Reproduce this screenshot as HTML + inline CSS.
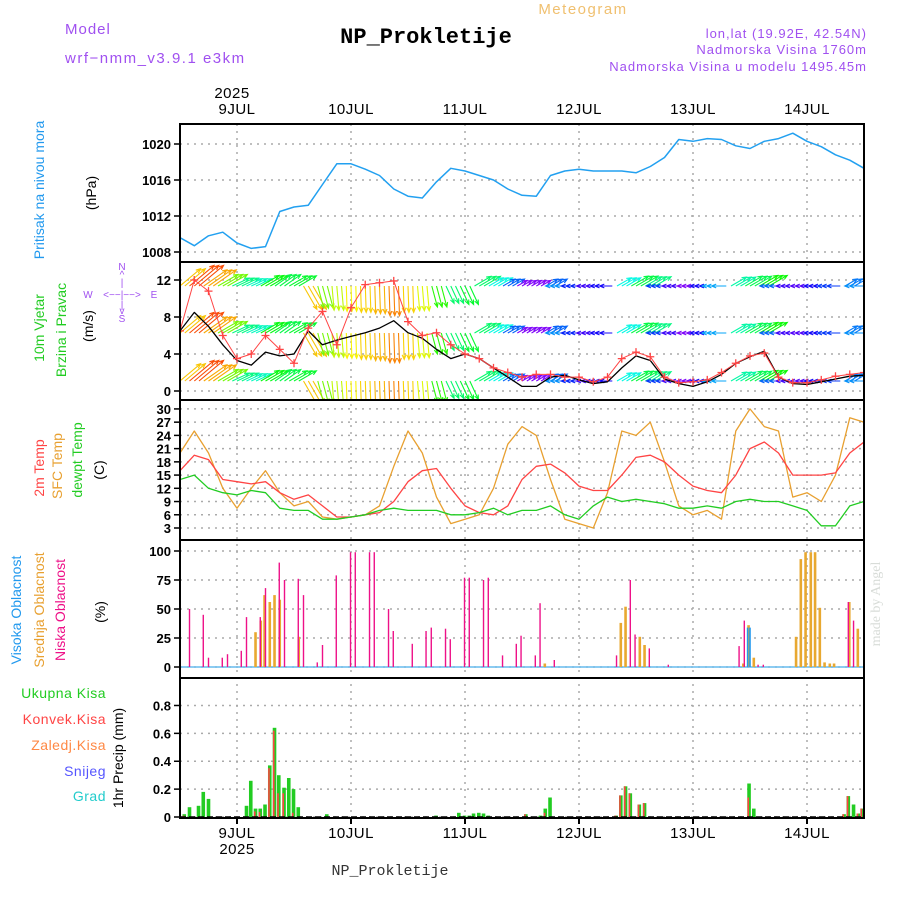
<!DOCTYPE html>
<html><head><meta charset="utf-8">
<style>
html,body{margin:0;padding:0;background:#fff;}
svg{display:block;font-family:"Liberation Sans",sans-serif;}
.tk{font-size:13px;font-weight:bold;fill:#000;}
.day{font-size:15px;fill:#000;letter-spacing:0.5px;}
</style></head>
<body>
<svg id="chart" width="900" height="900" viewBox="0 0 900 900">
<rect x="0" y="0" width="900" height="900" fill="#fff"/>
<text x="65" y="34" font-size="15" fill="#a050f0" letter-spacing="1">Model</text>
<text x="65" y="63" font-size="15" fill="#a050f0" letter-spacing="1.5">wrf−nmm_v3.9.1 e3km</text>
<text x="426" y="43" font-size="22" font-weight="bold" text-anchor="middle" font-family="Liberation Mono, monospace" fill="#000">NP_Prokletije</text>
<text x="583" y="14" font-size="15" text-anchor="middle" fill="#f0c070" letter-spacing="1.5">Meteogram</text>
<text x="867" y="38" font-size="13" text-anchor="end" fill="#a050f0" letter-spacing="1">lon,lat (19.92E, 42.54N)</text>
<text x="867" y="54" font-size="13" text-anchor="end" fill="#a050f0" letter-spacing="1">Nadmorska Visina 1760m</text>
<text x="867" y="71" font-size="13" text-anchor="end" fill="#a050f0" letter-spacing="1">Nadmorska Visina u modelu 1495.45m</text>
<text x="232" y="98" class="day" text-anchor="middle">2025</text>
<text x="876" y="600" font-size="14" fill="#d8dcd8" font-family="Liberation Serif, serif" transform="rotate(-90 880 600)" text-anchor="middle">made by Angel</text>
<text x="390" y="875" font-size="15" font-family="Liberation Mono, monospace" text-anchor="middle" fill="#333">NP_Prokletije</text>

<!-- left labels -->
<text transform="translate(44,190) rotate(-90)" font-size="14" fill="#2299ee" text-anchor="middle">Pritisak na nivou mora</text>
<text transform="translate(96,193) rotate(-90)" font-size="14" fill="#000" text-anchor="middle">(hPa)</text>
<text transform="translate(44,328) rotate(-90)" font-size="14" fill="#22cc22" text-anchor="middle">10m Vjetar</text>
<text transform="translate(66,330) rotate(-90)" font-size="14" fill="#22cc22" text-anchor="middle">Brzina i Pravac</text>
<text transform="translate(93,326) rotate(-90)" font-size="14" fill="#000" text-anchor="middle">(m/s)</text>
<g fill="#a050f0" font-size="10" text-anchor="middle">
<text x="122" y="270">N</text><text x="122" y="278">^</text><text x="122" y="286">|</text>
<text x="88" y="298">W</text><text x="122" y="298">&lt;−−|−−&gt;</text><text x="154" y="298">E</text>
<text x="122" y="308">|</text><text x="122" y="314">v</text><text x="122" y="322">S</text>
</g>
<text transform="translate(44,468) rotate(-90)" font-size="14" fill="#ff4444" text-anchor="middle">2m Temp</text>
<text transform="translate(62,466) rotate(-90)" font-size="14" fill="#e8a030" text-anchor="middle">SFC Temp</text>
<text transform="translate(82,460) rotate(-90)" font-size="14" fill="#22cc22" text-anchor="middle">dewpt Temp</text>
<text transform="translate(104,470) rotate(-90)" font-size="14" fill="#000" text-anchor="middle">(C)</text>
<text transform="translate(21,610) rotate(-90)" font-size="14" fill="#2299ee" text-anchor="middle">Visoka Oblacnost</text>
<text transform="translate(44,610) rotate(-90)" font-size="14" fill="#e8a030" text-anchor="middle">Srednja Oblacnost</text>
<text transform="translate(65,610) rotate(-90)" font-size="14" fill="#ee1188" text-anchor="middle">Niska Oblacnost</text>
<text transform="translate(105,612) rotate(-90)" font-size="14" fill="#000" text-anchor="middle">(%)</text>
<g font-size="14" text-anchor="end" letter-spacing="0.5">
<text x="106" y="698" fill="#22cc22">Ukupna  Kisa</text>
<text x="106" y="724" fill="#ff4444">Konvek.Kisa</text>
<text x="106" y="750" fill="#ff8844">Zaledj.Kisa</text>
<text x="106" y="776" fill="#5555ff">Snijeg</text>
<text x="106" y="801" fill="#22cccc">Grad</text>
</g>
<text transform="translate(123,758) rotate(-90)" font-size="14" fill="#000" text-anchor="middle">1hr Precip (mm)</text>

<g id="grid"></g>
<g id="marks"></g>
<g id="frames"></g>
</svg>
<script>
// ---- data (3-hourly from 8JUL 12Z) ----
const dayLabels = ["9JUL","10JUL","11JUL","12JUL","13JUL","14JUL"];
const pressure = [1009.6,1008.7,1009.8,1010.2,1009.0,1008.4,1008.6,1012.5,1013.0,1013.2,1015.5,1017.8,1017.8,1017.2,1016.5,1015.0,1014.2,1014.0,1015.8,1017.3,1017.0,1016.5,1016.0,1015.0,1014.3,1014.2,1016.5,1017.0,1017.2,1017.0,1017.0,1017.0,1016.8,1017.5,1018.5,1020.5,1020.3,1020.6,1020.5,1019.8,1019.5,1020.3,1020.6,1021.2,1020.3,1019.7,1018.8,1018.2,1017.3];
const windSpeed = [6.5,8.5,7,5,3.3,2.8,4.2,3.8,4,6.5,5,5.5,5.9,6.3,6.8,7.6,6.3,5.7,4.5,3.5,4,3.5,2.5,1.5,0.5,0.5,1.5,1.7,1.2,0.8,1.0,2.5,3.8,3.3,1.3,0.8,0.5,1.0,1.8,3.0,3.7,4.3,1.5,0.8,0.7,1.0,1.3,1.6,1.7];
const windGust = [6.5,12,10.8,6,3.5,4,6,4.5,3,6.8,8.6,5,9,11.5,11.7,11.9,7.5,6,6.3,5,4,3.5,2.5,2,1.5,1.8,1.8,1.5,1.5,1,1.5,3.5,4.2,3.7,1.5,0.9,1,1.2,2,3,3.8,4.1,1.5,0.9,0.9,1.2,1.6,1.8,2];
const windDir = [50,50,55,60,65,65,60,55,60,150,165,175,178,178,178,178,178,175,165,155,155,60,60,60,60,60,60,270,270,270,270,60,60,60,270,270,270,270,270,60,60,60,270,270,270,270,270,60,270];
const temp2m = [16,19.5,18.5,14,13.5,13,13.5,11,9.5,10.5,8,5.5,5.5,6,6.5,9,13.5,16,16.5,12,8,6.5,6,8,14,17,17.5,15.5,12.5,11.5,11.5,15,19,19.5,18,15,12.5,11.5,11,15,21,22.5,20,15,15,15,15.5,20,22.5];
const tempSfc = [20,25,20,12,7.5,12,16,11,8,9,5.5,5,5.5,6,8,17,25,20,10,4,5,6,12,22,26,24,14,5,4,3,11,25,24,27,18,8,6,7,5,25,30,26,25,10,11,9,15,28,27];
const dewpt = [14,15,12,11,10.5,11.5,11,7.5,7,7,5,5,5.5,6,7,7.5,7,7,7,6,6,6.5,7.5,6,7,7,8,6,5,8,10,9,9.5,9,8.5,7.5,7.5,8,7.5,9,9.5,9,9,8,7,3.5,3.5,8,9];
// clouds (hour from start, percent)
const lowHours = [2.0,4.9,6.0,8.9,10.0,12.9,14.0,16.9,18.0,20.9,22.0,24.9,26.0,28.9,30.0,32.9,35.9,36.9,39.9,40.9,43.9,44.9,48.9,51.8,52.9,55.9,56.9,59.9,60.9,63.9,64.9,67.9,70.8,71.8,74.8,75.8,78.8,91.9,94.8,95.8,98.8,102.8,117.7,118.8,121.7,122.8,140.7,141.8];
const lowVals = [50,45,8,8,11,14,43,43,68,90,75,76,62,4,19,79,99,99,99,99,50,31,20,31,34,33,24,77,77,75,77,10,20,27,10,55,6,10,75,28,16,2,18,40,2,2,56,40];
const midHours = [15.9,17.0,17.8,18.9,19.9,21.0,25.0,76.8,92.8,93.8,96.8,97.8,118.6,119.7,120.8,129.7,130.7,131.7,132.8,133.7,134.7,135.7,136.8,137.7,140.9,142.7];
const midVals = [30,40,62,56,62,58,26,3,38,52,26,19,3,36,8,26,93,99,99,99,51,4,3,3,56,33];
const highHours = [119.5,120.0];
const highVals = [34,34];
// precip (hour, mm)
const precipHours = [0.9,2.0,3.9,4.9,6.0,14.0,14.9,15.9,16.9,17.9,18.9,19.9,20.8,21.9,22.9,23.9,24.9,30.9,53.9,58.7,59.9,60.9,61.8,62.9,63.9,64.9,72.8,75.9,76.9,77.9,91.8,92.8,93.8,94.8,96.7,97.8,119.8,120.8,139.8,140.7,141.8,142.8,143.6];
const precipTotal = [0.02,0.07,0.08,0.18,0.13,0.08,0.26,0.06,0.06,0.09,0.37,0.64,0.30,0.21,0.28,0.20,0.07,0.02,0.01,0.03,0.01,0.01,0.025,0.03,0.025,0.01,0.02,0.01,0.06,0.14,0.01,0.155,0.22,0.17,0.09,0.1,0.24,0.06,0.02,0.15,0.09,0.025,0.06];
const precipConv = [0.01,0,0,0,0,0,0,0.04,0.035,0,0.35,0.62,0.17,0.17,0,0.03,0,0,0,0,0,0,0,0,0,0,0.02,0,0.03,0,0.01,0.155,0.22,0.17,0.09,0.1,0.14,0,0.02,0.15,0,0.025,0.06];
const pTicks = [1008,1012,1016,1020];
const wTicks = [0,4,8,12];
const tTicks = [3,6,9,12,15,18,21,24,27,30];
const cTicks = [0,25,50,75,100];
const rTicks = [0,0.2,0.4,0.6,0.8];

// ---- axes ----
const X0=180, X1=864;
const xH = h => X0 + h*4.75;
const xI = i => xH(i*3);
const yP = v => 252 - (v-1008)*9;
const yW = v => 391 - v*9.25;
const yT = v => 528 - (v-3)*4.41;
const yC = v => 667 - v*1.16;
const yR = v => 817 - v*139.4;
const panels = [[124,262],[262,400],[400,540],[540,678],[678,818]];

const NS="http://www.w3.org/2000/svg";
function mk(tag, attrs, parent){const e=document.createElementNS(NS,tag);for(const k in attrs)e.setAttribute(k,attrs[k]);parent.appendChild(e);return e;}
const grid=document.getElementById('grid'), marks=document.getElementById('marks'), frames=document.getElementById('frames');

// clip paths
const defs=mk('defs',{},document.getElementById('chart'));
panels.forEach((p,k)=>{const c=mk('clipPath',{id:'clip'+k},defs);mk('rect',{x:X0,y:p[0],width:X1-X0,height:p[1]-p[0]},c);});

// vertical day grid & labels
dayLabels.forEach((d,k)=>{
  const x = xH(12+24*k);
  const gl=mk('line',{x1:x,y1:124,x2:x,y2:818,stroke:'#aaa','stroke-width':1.5,'stroke-dasharray':'2,5'},grid);
  
  
  const t=mk('text',{x:x,y:114,'text-anchor':'middle',class:'day'},grid); t.textContent=d;
  
  
  const b=mk('text',{x:x,y:838,'text-anchor':'middle',class:'day'},grid); b.textContent=d;
  
  
  mk('line',{x1:x,y1:818,x2:x,y2:824,stroke:'#000','stroke-width':2},grid);
});
const yr=mk('text',{x:xH(12),y:854,'text-anchor':'middle',class:'day'},grid); yr.textContent='2025';



function hticks(ticks, yf, fmt, name){
  ticks.forEach(v=>{
    const y=yf(v);
    const l=mk('line',{x1:X0,y1:y,x2:X1,y2:y,stroke:'#aaa','stroke-width':1.5,'stroke-dasharray':'2,5'},grid);
    
    
    mk('line',{x1:X0-6,y1:y,x2:X0,y2:y,stroke:'#000','stroke-width':1.5},grid);
    const t=mk('text',{x:X0-9,y:y+5,'text-anchor':'end',class:'tk'},grid); t.textContent=fmt(v);
    
    
  });
}
hticks(pTicks,yP,v=>String(v),'pressure');
hticks(wTicks,yW,v=>String(v),'wind');
hticks(tTicks,yT,v=>String(v),'temp');
hticks(cTicks,yC,v=>String(v),'cloud');
hticks(rTicks,yR,v=>v===0?'0':v.toFixed(1),'precip');

function line(arr, xf, yf, color, w, clip, name){
  const d=arr.map((v,i)=>(i?'L':'M')+xf(i).toFixed(1)+','+yf(v).toFixed(1)).join(' ');
  const p=mk('path',{d:d,fill:'none',stroke:color,'stroke-width':w,'clip-path':'url(#clip'+clip+')','stroke-linejoin':'round'},marks);
  
  
  return p;
}
// pressure
line(pressure,xI,yP,'#22a0f0',1.5,0,'pressure-line');

// wind arrows
function hueFor(s){
  const sp=[0.5,2,4,6,8,11], hu=[270,190,130,55,25,-20];
  if(s<=sp[0]) return hu[0];
  for(let k=1;k<sp.length;k++){ if(s<=sp[k]) return hu[k-1]+(hu[k]-hu[k-1])*(s-sp[k-1])/(sp[k]-sp[k-1]); }
  return hu[hu.length-1];
}
const rows=[286,333,381];
const wg=mk('g',{'clip-path':'url(#clip1)'},marks);


for(let h=0; h<=144; h++){
  const i=Math.min(48,Math.round(h/3));
  const s=windSpeed[i], a=windDir[i]*Math.PI/180;
  const L=10+s*2.6;
  const col='hsl('+((hueFor(s)+360)%360)+',95%,50%)';
  rows.forEach(y0=>{
    const x0=xH(h), x1=x0+Math.sin(a)*L, y1=y0-Math.cos(a)*L;
    const ar=mk('path',{d:`M${x0.toFixed(1)},${y0} L${x1.toFixed(1)},${y1.toFixed(1)} M${(x1-Math.sin(a-0.4)*5).toFixed(1)},${(y1+Math.cos(a-0.4)*5).toFixed(1)} L${x1.toFixed(1)},${y1.toFixed(1)} L${(x1-Math.sin(a+0.4)*5).toFixed(1)},${(y1+Math.cos(a+0.4)*5).toFixed(1)}`,stroke:col,'stroke-width':1.1,fill:'none'},wg);
    
    
  });
}
line(windSpeed,xI,yW,'#000',1.3,1,'wind-speed-line');
line(windGust,xI,yW,'#ff4444',1,1,'wind-gust-line');
windGust.forEach((v,i)=>{
  const x=xI(i), y=yW(v);
  const m=mk('path',{d:`M${x-4},${y} L${x+4},${y} M${x},${y-4} L${x},${y+4}`,stroke:'#ff4444','stroke-width':1.3,'clip-path':'url(#clip1)'},marks);
  
  
});

// temperatures
line(tempSfc,xI,yT,'#e8a030',1.3,2,'sfc-temp-line');
line(temp2m,xI,yT,'#ff4444',1.3,2,'temp-2m-line');
line(dewpt,xI,yT,'#22cc22',1.3,2,'dewpoint-line');

// clouds
const bl=mk('line',{x1:X0,y1:yC(0),x2:X1,y2:yC(0),stroke:'#66bbee','stroke-width':1.5},marks);


function bars(hours, vals, yf, color, w, off, clip, name){
  hours.forEach((h,k)=>{
    const x=xH(h)+off, y=yf(vals[k]), y0=yf(0);
    const r=mk('rect',{x:(x-w/2).toFixed(2),y:y.toFixed(1),width:w,height:Math.max(0,y0-y).toFixed(1),fill:color,'clip-path':'url(#clip'+clip+')'},marks);
    
    
  });
}
bars(midHours,midVals,yC,'#e8a830',2.6,0,3,'mid-cloud-bar');
bars(lowHours,lowVals,yC,'#ee1188',1.4,0,3,'low-cloud-bar');
bars(highHours,highVals,yC,'#2299ee',1.6,0,3,'high-cloud-bar');

// precipitation
bars(precipHours,precipTotal,yR,'#22cc22',3.6,0,4,'total-precip-bar');
bars(precipHours,precipConv,yR,'#ff4444',1.6,-0.8,4,'convective-precip-bar');
const zl=mk('line',{x1:X0,y1:yR(0),x2:X1,y2:yR(0),stroke:'#000','stroke-width':1.5,'stroke-dasharray':'6,3'},marks);



// frames
panels.forEach((p,k)=>{
  const r=mk('rect',{x:X0,y:p[0],width:X1-X0,height:p[1]-p[0],fill:'none',stroke:'#000','stroke-width':2},frames);
  
  
});
</script>
</body></html>
